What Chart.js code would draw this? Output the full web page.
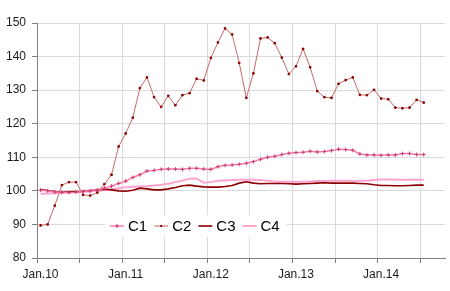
<!DOCTYPE html>
<html>
<head>
<meta charset="utf-8">
<script src="https://cdn.jsdelivr.net/npm/chart.js@4.4.1/dist/chart.umd.min.js"></script>
<style>
    html, body { margin: 0; padding: 0; background: #fff; }
    #wrap { width: 450px; height: 291px; }
</style>
</head>
<body>
<div id="wrap"><canvas id="chart" width="450" height="291"></canvas></div>
<script>
// Monthly series, first point = Jan 2010, last = Jul 2014
const seriesNames = ['C1', 'C2', 'C3', 'C4'];

const c1Values = [100.2, 100.0, 99.7, 99.5, 99.5, 99.6, 99.8, 100.0, 100.3, 100.8,
    101.4, 102.2, 102.9, 104.0, 104.8, 105.9, 106.1, 106.4, 106.5, 106.5,
    106.4, 106.7, 106.7, 106.5, 106.4, 107.2, 107.6, 107.7, 107.9, 108.2,
    108.7, 109.4, 110.0, 110.3, 110.8, 111.2, 111.4, 111.5, 111.8, 111.6,
    111.7, 112.0, 112.4, 112.3, 112.1, 111.0, 110.7, 110.7, 110.6, 110.7,
    110.7, 111.1, 111.1, 110.8, 110.8];

const c2Values = [89.7, 90.0, 95.6, 101.7, 102.6, 102.6, 98.8, 98.6, 99.5, 102.0,
    104.8, 113.2, 117.1, 121.8, 130.6, 133.8, 127.9, 125.0, 128.3, 125.5,
    128.5, 129.1, 133.4, 132.9, 139.6, 144.2, 148.4, 146.6, 138.1, 127.7,
    135.0, 145.4, 145.7, 144.0, 139.7, 134.8, 137.1, 142.3, 136.8, 129.7,
    127.9, 127.7, 131.9, 133.0, 133.8, 128.6, 128.5, 130.1, 127.5, 127.3,
    124.8, 124.6, 124.8, 127.1, 126.3];

const c3Values = [100.4, 100.1, 99.8, 99.6, 99.7, 99.8, 99.9, 100.1, 100.3, 100.5,
    100.3, 100.0, 99.9, 100.2, 100.8, 100.6, 100.3, 100.3, 100.6, 101.0,
    101.5, 101.7, 101.4, 101.2, 101.1, 101.1, 101.3, 101.6, 102.3, 102.7,
    102.3, 102.1, 102.2, 102.2, 102.2, 102.1, 102.0, 102.1, 102.2, 102.3,
    102.4, 102.3, 102.3, 102.3, 102.3, 102.2, 102.1, 101.8, 101.6, 101.6,
    101.5, 101.5, 101.6, 101.7, 101.7];

const c4Values = [99.1, 99.2, 99.3, 99.4, 99.5, 99.6, 99.7, 99.8, 100.0, 100.2,
    100.5, 100.8, 101.1, 101.2, 101.3, 101.4, 101.6, 101.8, 102.1, 102.6,
    103.1, 103.6, 103.7, 102.4, 102.6, 103.0, 103.1, 103.2, 103.3, 103.3,
    103.3, 103.2, 103.0, 102.8, 102.7, 102.7, 102.7, 102.7, 102.8, 102.9,
    102.9, 103.0, 103.0, 103.0, 102.9, 103.0, 103.0, 103.2, 103.4, 103.4,
    103.3, 103.3, 103.3, 103.4, 103.3];

// one label per January, gridlines every 6 months
const yearLabels = ['Jan.10', 'Jan.11', 'Jan.12', 'Jan.13', 'Jan.14'];
const yMin = 80;
const yMax = 150;
const yStep = 10;

const FONT = '"Liberation Sans", Arial, sans-serif';

// points sit in the middle of their month
function toPoints(values) {
    return values.map((v, i) => ({ x: i + 0.5, y: v }));
}

const styles = [
    { color: '#ff7ab2', width: 1.5, point: 'cross', pointColor: '#c8406e', radius: 2 },
    { color: '#c46a6a', width: 1, point: 'rect', pointColor: '#8b0000', radius: 1.1 },
    { color: '#8b0000', width: 1.6, point: false, pointColor: '#8b0000', radius: 0 },
    { color: '#ffa3cf', width: 2, point: false, pointColor: '#ffa3cf', radius: 0 }
];

const allValues = [c1Values, c2Values, c3Values, c4Values];

const datasets = allValues.map((values, k) => ({
    label: seriesNames[k],
    data: toPoints(values),
    borderColor: styles[k].color,
    borderWidth: styles[k].width,
    backgroundColor: styles[k].pointColor,
    pointStyle: styles[k].point,
    pointRadius: styles[k].radius,
    pointBorderColor: styles[k].pointColor,
    pointBorderWidth: 1,
    tension: 0,
    fill: false
}));

// Legend drawn inside the plot, on a white box
const insideLegend = {
    id: 'insideLegend',
    afterDraw(chart) {
        const ctx = chart.ctx;
        const area = chart.chartArea;
        const boxLeft = area.left + 68;
        const boxTop = area.bottom - 43;
        const boxH = 22;
        const lineLen = 14;
        ctx.save();
        ctx.font = '15px ' + FONT;
        let width = 5;
        seriesNames.forEach(name => {
            width += lineLen + 4 + ctx.measureText(name).width + 7;
        });
        ctx.fillStyle = '#ffffff';
        ctx.fillRect(boxLeft, boxTop, width, boxH);

        const midY = boxTop + boxH / 2;
        let x = boxLeft + 5;
        seriesNames.forEach((name, k) => {
            const st = styles[k];
            ctx.strokeStyle = st.color;
            ctx.lineWidth = st.width;
            ctx.beginPath();
            ctx.moveTo(x, midY);
            ctx.lineTo(x + lineLen, midY);
            ctx.stroke();
            const cx = x + lineLen / 2;
            if (st.point === 'cross') {
                ctx.strokeStyle = st.pointColor;
                ctx.lineWidth = 1;
                ctx.beginPath();
                ctx.moveTo(cx - 2, midY); ctx.lineTo(cx + 2, midY);
                ctx.moveTo(cx, midY - 2); ctx.lineTo(cx, midY + 2);
                ctx.stroke();
            } else if (st.point === 'rect') {
                ctx.fillStyle = st.pointColor;
                ctx.fillRect(cx - 1, midY - 1, 2, 2);
            }
            x += lineLen + 4;
            ctx.fillStyle = '#000000';
            ctx.textBaseline = 'middle';
            ctx.textAlign = 'left';
            ctx.fillText(name, x, midY + 1);
            x += ctx.measureText(name).width + 7;
        });
        ctx.restore();
    }
};

new Chart(document.getElementById('chart'), {
    type: 'line',
    data: { datasets: datasets },
    options: {
        responsive: false,
        animation: false,
        events: [],
        layout: {
            padding: { top: 23, right: 1, left: 0, bottom: 0 }
        },
        plugins: {
            legend: { display: false },
            tooltip: { enabled: false }
        },
        scales: {
            x: {
                type: 'linear',
                min: 0,
                max: 57.5,
                afterFit: function(scale) { scale.height = 33; },
                border: { color: '#808080', width: 1 },
                grid: {
                    color: '#dadada',
                    tickColor: '#808080',
                    tickLength: 5
                },
                ticks: {
                    stepSize: 6,
                    includeBounds: false,
                    autoSkip: false,
                    maxRotation: 0,
                    labelOffset: 3.5,
                    padding: 4,
                    color: '#1a1a1a',
                    font: { family: FONT, size: 12 },
                    callback: function(value) {
                        return value % 12 === 0 ? yearLabels[value / 12] : '';
                    }
                }
            },
            y: {
                min: yMin,
                max: yMax,
                afterFit: function(scale) { scale.width = 37; },
                border: { color: '#808080', width: 1 },
                grid: {
                    color: '#dadada',
                    tickColor: '#808080',
                    tickLength: 5
                },
                ticks: {
                    stepSize: yStep,
                    padding: 6,
                    color: '#1a1a1a',
                    font: { family: FONT, size: 12 }
                }
            }
        }
    },
    plugins: [insideLegend]
});
</script>
</body>
</html>
